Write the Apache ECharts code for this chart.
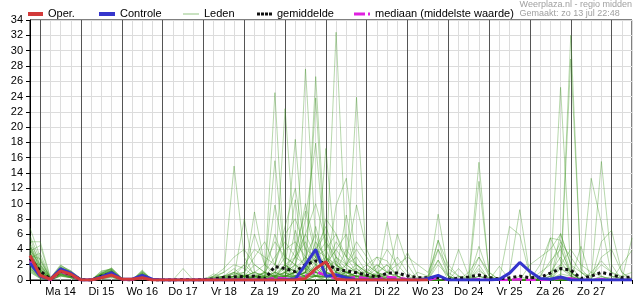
<!DOCTYPE html>
<html><head><meta charset="utf-8">
<script src="https://cdn.jsdelivr.net/npm/echarts@6/dist/echarts.min.js"></script>
<style>html,body{margin:0;padding:0;background:#fff}#c{width:635px;height:300px}</style>
</head><body><div id="c"></div>
<script>
// 6-hourly steps from zo 13 jul 18:00 to ma 28 jul 12:00 (60 points)
const dagLabels = ['Ma 14','Di 15','Wo 16','Do 17','Vr 18','Za 19','Zo 20','Ma 21','Di 22','Wo 23','Do 24','Vr 25','Za 26','Zo 27'];
const yMin = 0, yMax = 34, yStap = 2;

const oper = [3.2,0.6,0.1,1.2,0.75,0,0,0.3,0.65,0.1, 0.1,0.3,0,0,0,0,0,0,0,0, 0,0,0,0,0,0,0,0.2,1.5,2.4, 0.1,0,0,0,0,0,0,0,0,0,
  null,null,null,null,null,null,null,null,null,null, null,null,null,null,null,null,null,null,null,null];
const controle = [2.2,0.5,0.1,1.45,0.9,0,0,0.4,0.95,0.1, 0.1,0.6,0.1,0,0,0,0,0,0,0, 0,0,0,0,0,0.05,0.15,2.0,4.0,0.5,
  0.7,0.3,0,0,0,0,0,0,0,0.2, 0.6,0,0,0,0,0,0.1,0.9,2.3,1.1, 0.2,0.1,0.4,0,0,0,0,0,0,0];
const gemiddelde = [2.8,1.2,0.1,1.2,0.7,0.05,0,0.5,0.9,0.05, 0,0.5,0,0,0,0.05,0,0.05,0.15,0.35, 0.4,0.45,0.5,0.15,1.75,1.5,1.1,2.0,2.5,2.2,
  1.4,1.2,0.95,0.65,0.4,0.9,0.9,0.55,0.3,0.3, 0.35,0.1,0.2,0.4,0.65,0.3,0.15,0.3,0.5,0.3, 0.35,0.9,1.5,1.3,0.2,0.5,1.0,0.7,0.3,0.4];
const mediaan = [2.6,0.5,0,1.1,0.6,0,0,0.4,0.9,0, 0,0.3,0,0,0,0,0,0,0,0, 0,0,0,0,0.3,0.2,0.1,0.5,1.1,0.6,
  0.2,0.2,0.4,0.2,0.1,0.4,0.3,0.1,0,0, 0.3,0,0,0,0.1,0,0,0,0.1,0, 0,0,0.3,0.2,0,0,0.1,0,0,0];

const leden = [
 [6.8,3.0,0.2,1.5,0.8,0,0,0.5,1.2,0.1, 0,0.8,0,0,0,0,0,0,0.3,1.0, 14.9,3.0,0.5,0,0.8,2.0,0.5,1.0,3.5,0.6, 0.2,1.0,0,0,0.5,0.3,0,0,0,0, 0.5,0,0,0,1.2,0.3,0,0,0,0, 0,0,0.8,0.5,0,0,0,0.5,0.2,0],
 [5.0,5.0,0.3,2.0,1.0,0.1,0,0.8,1.6,0.3, 0,1.3,0,0,0,1.5,0,0,0,0, 0.2,0.5,1.0,0.5,24.5,1.0,0.3,2.0,0.5,0, 0.8,0.3,0,1.5,0.5,0,0,0,0.3,0.5, 2.6,0,0.5,0.3,0,0,0,0,0.2,0, 0,1.0,3.0,1.0,0,0,0.4,0.2,0,0],
 [4.2,1.5,0.1,1.0,0.5,0,0,0.3,0.8,0, 0,0.4,0,0,0,0,0,0,0,0.5, 1.5,0.3,8.9,2.0,0.5,22.4,4.0,1.5,3.0,1.0, 0.5,0,0,0,0.8,2.0,0.5,0,0,0, 0,0,0,0,0.5,0.3,0,0,0,0, 0,0.5,1.5,0.8,0,0,0,0,0,0],
 [3.0,0.8,0,1.2,0.6,0,0,0.6,1.0,0.2, 0,0.6,0,0,0,0,0,0,0,0, 0.5,2.0,0.8,0.3,9.8,3.0,18.4,2.5,1.0,0.5, 2.0,1.0,0.5,0.3,0,0,0,0,0,0, 8.6,1.0,0,0,0.5,0,0,0,0,0, 0,0,0.5,0.3,0,0,0,0,0,0.3],
 [2.5,2.0,0.2,1.8,1.2,0.2,0,1.2,1.4,0, 0,0.9,0,0,0,0,0,0,0.5,0.2, 0,0.5,0.3,1.0,15.6,2.0,1.0,27.6,5.0,1.0, 0.5,0.3,0,0,0.8,0.3,0,0,0,0, 0,0,4.0,0.5,0,0,0,0,0,0, 0,0,6.1,2.0,0,0,0,0,0.5,0.2],
 [1.8,0.5,0,0.8,0.4,0,0,0.2,0.6,0, 0,0.3,0,0,0,0,0,0,0,0, 0,0,0.5,0.8,0.5,1.5,0.5,1.0,26.6,4.0, 1.0,0.5,0.2,0,0,7.6,1.0,0,0,0, 0,0,0,0.5,15.4,0.5,0,0,0,0, 0,0,0.3,0.3,0,0,0.5,0,0,0],
 [3.5,1.2,0.1,1.4,0.9,0,0,0.4,1.1,0.1, 0,1.0,0.1,0,0,0,0,0,0.8,0.3, 0.2,0.5,0,1.0,0.3,2.0,10.5,1.0,23.8,2.0, 0.5,0,0,0.3,1.0,0,0,0,0,0, 0,0,0.3,0,0,0,0,1.0,9.2,0.5, 0,0.5,0.5,0,0,0,0,0,0,0],
 [2.2,0.6,0,1.6,0.7,0,0,0.9,1.3,0, 0,0.5,0,0,0,0,0,0,0,0, 0,0,0,0.5,0,1.0,1.5,3.0,2.0,1.5, 32.4,3.0,1.0,0.3,0.5,0.5,0,0,0,0, 0,0,0,0,0.5,0,0,0,0,0, 0,0.5,25.2,1.0,0,0,0,0,0,0],
 [1.2,0.3,0,0.6,0.3,0,0,0.3,0.5,0, 0,0.2,0,0,0,0,0,0,0,0, 0,0.3,0,0,0.5,0.5,1.0,0.5,2.0,1.0, 3.0,0.5,23.9,2.0,1.0,0.5,0,0,0,0, 0,0,0,0,0,0,0,0,0,0, 0,0,0.5,32.0,1.0,0,0,0,0,0],
 [4.8,2.5,0.3,1.3,1.0,0.1,0,0.7,0.9,0, 0,0.7,0,0,0,0,0,0,0,0, 0,0,0.5,0,0.3,0,0.5,0.5,1.0,17.2, 2.0,1.0,0.3,0,0,0,0,0,0,0, 0,0,0,0,12.9,1.0,0,0,0,0, 0,0,0,0,0,0,15.5,2.0,0,0],
 [2.8,1.0,0,1.1,0.5,0,0,0.5,0.7,0, 0,0.5,0,0,0,0,0,0,0.2,0.5, 0.3,0.8,0.5,0.3,1.0,3.0,2.0,8.0,17.9,3.0, 1.0,0.5,0,0,0,0,0,0,0,0, 0,0,0,0,0,0,0,7.0,5.9,0.5, 0,0,0,0,0,0,0,0,0,0],
 [1.5,0.4,0,0.7,0.3,0,0,0.2,0.4,0, 0,0.2,0,0,0,0,0,0,0,0.3, 0.8,0.5,2.0,1.0,0.5,1.0,3.0,5.0,2.0,0.5, 9.8,13.3,2.0,0.5,0,0,0,0,0,0, 0,0,0,0,0,0,0,0,0,0, 0,0,0,28.9,1.5,0,0,0,0,0],
 [3.8,4.5,0.2,1.7,1.1,0.1,0,1.0,1.5,0.2, 0,1.1,0,0,0,0,0,0,0,0, 0,0,0.5,0.2,0.3,0.8,1.0,2.0,0.5,0.3, 1.0,8.5,1.5,0.5,0.3,0.3,0,0,0,0, 5.2,0.5,0,0,4.4,0.5,0,0,0,0, 0,0,0,0,0,13.3,7.4,0.5,0,0],
 [2.0,0.8,0,0.9,0.4,0,0,0.4,0.9,0, 0,0.4,0,0,0,0,0,0,0,0, 0,0.5,0.5,0,0,0.5,0.3,1.0,3.0,2.0, 1.5,1.0,0.5,1.0,3.0,2.5,0.5,0,0,0, 4.0,0.5,0,0,0,0,0,0,0.5,0, 0,5.5,5.2,1.0,0,0,0,0,0,0],
 [5.5,1.8,0.1,1.2,0.7,0,0,0.6,1.0,0.1, 0,0.6,0,0,0,0,0,0,0,0, 0.5,0,0,0.3,6.0,2.0,1.0,0.5,4.0,7.0, 3.0,1.5,1.0,0,0,0,0,0,0,0, 0,0,0,0,0,0,0,0,0,0, 0,0,0,0,4.4,0,5.0,6.5,1.0,0],
 [1.0,0.2,0,0.5,0.3,0,0,0.1,0.3,0, 0,0.1,0,0,0,0,0,0,0,0.5, 1.0,0.5,0,0,0.5,2.0,1.0,0.5,1.0,0.5, 0.5,0.5,1.0,0.5,0.5,0,0,0,0,0, 2.6,0.5,0,0,0,0,0,0,0,0, 0,0,0,0,0,0,0,0,2.0,3.9],
 [3.2,2.8,0.2,1.4,0.8,0,0,0.5,0.8,0, 0,0.3,0,0,0,0,0,0,0,0, 0.5,8.0,1.0,0.5,0.5,0.3,2.0,0.5,0.5,0, 0,0.5,0,0,0,0,0,0,0,0, 0,0,0,0,2.0,0,0,0,0,0, 0,0,2.0,1.0,0,0,0,0,0,0],
 [2.6,0.9,0,1.0,0.5,0,0,0.8,1.2,0, 0,0.5,0,0,0,0,0,0,0.3,0.5, 0.8,1.0,6.0,2.0,1.0,0.5,0.5,1.5,0.5,2.0, 4.0,6.0,1.0,0.5,0.3,0,0,0,0,0, 0,0,0,0,0,0,0,0,0,0, 0,0,4.5,0.5,0,0,0,0,0,0],
 [4.0,1.0,0.1,1.3,0.9,0,0,0.6,1.0,0, 0,0.8,0,0,0,0,0,0,0,0.3, 0.5,0.5,0.3,0.5,2.0,7.0,12.0,4.0,1.0,0.5, 0.5,0.3,0,0,0,0,0,0,0,0, 0,0,0,0,0,0,0,0,0,0, 0,0,0,0,0,0,0,0,0,0],
 [1.6,0.4,0,0.7,0.5,0,0,0.3,0.7,0, 0,0.4,0,0,0,0,0,0,0,0, 0,0.3,0.5,0.3,1.0,0.5,3.0,6.0,10.0,5.0, 2.0,0.5,0.5,0,0,1.0,3.0,1.0,0,0, 0,0,0,0,0,0,0,0,0,0, 0,0,0,0,0,0,0,0,0,0],
 [3.3,1.4,0.1,1.6,1.0,0.1,0,0.9,1.4,0.1, 0,0.9,0,0,0,0,0,0,0,0, 0,0,0,0.5,0.5,1.0,0.5,0.5,2.0,8.0, 6.0,2.0,3.0,1.0,0.5,0.3,0.5,0,0,0, 0,0,0,0,0,0,0,0,0,0, 0,0,0,0,0,0,0,0,0,0],
 [2.9,3.5,0.2,0.9,0.6,0,0,0.4,0.8,0, 0,0.3,0,0,0,0,0,0,0,0, 0.2,0.5,0.3,0.5,0.3,0.5,1.0,1.5,0.5,1.0, 0.5,2.0,5.0,3.0,1.0,2.0,0.5,0,0,0, 0,0,0,0,0,0,0,0,0,0, 0,0,0,0,0,0,0,0,0,0],
 [2.4,0.7,0,1.5,0.8,0,0,0.7,1.1,0, 0,0.6,0,0,0,0,0,0,0,0, 0,0,0,0,0.5,1.0,2.0,0.8,1.0,3.0, 1.0,0.5,0.5,0.5,1.5,4.0,2.0,0.5,0,0, 2.0,0.5,0,0,0,0,0,0,0,0, 0,0,0,0,0,0,0,0,0,0],
 [1.4,0.3,0,0.6,0.4,0,0,0.3,0.6,0, 0,0.2,0,0,0,0,0,0,0,0, 0,0,0,0.3,0.5,0.5,0.5,1.0,1.5,0.5, 0.5,0.5,0.3,0,0,0,1.0,3.6,0.5,0, 0,0,0,1.0,3.0,0.5,0,0,0,0, 0.5,2.5,4.0,1.0,0,0,0,0,0,0],
 [3.6,1.1,0.1,1.2,0.7,0,0,0.5,0.9,0, 0,0.5,0,0,0,0,0,0,0,0.2, 0.5,0.5,0,0,0.3,0.5,6.5,2.0,0.5,0.5, 0.3,0,0,0,0,0,0,0,0,0, 0,0,0,0,0,0,0,0,0,0, 0,0,0,0,0,0,0,0,0,0],
 [2.1,0.5,0,1.0,0.5,0,0,0.5,0.9,0, 0,0.5,0,0,0,0,0,0,0.5,1.0, 2.0,1.5,0.5,1.0,0.5,1.0,4.0,9.0,3.0,1.0, 0.5,0,0,0,0,0,0,0,0,0, 0,0,0,0,0,0,0,0,0,0, 0,0,0,0,0,1.0,2.5,1.0,0,0],
 [4.5,2.2,0.2,1.9,1.2,0.1,0,1.1,1.5,0.2, 0,1.2,0,0,0,0,0,0,0,0, 0,0,0,0,0,0.5,0.5,0.5,1.0,2.0, 5.0,3.0,9.8,4.0,1.0,0.5,0,0,0,0, 0,0,0,0,0,0,0,0,0,0, 0,0,0,0,0,0,0,0,0,0],
 [1.9,0.6,0,0.8,0.4,0,0,0.3,0.7,0, 0,0.3,0,0,0,0,0,0,0,0, 0,0,0,0,0,0,0.5,1.0,5.0,3.0, 1.5,0.5,0.5,0.5,2.0,1.0,0.3,0,0,0, 0,0,0,0,0,0,0,0,0,0, 0,0,1.5,0.5,0,0,0,0,0,0],
 [3.1,0.9,0,1.3,0.8,0,0,0.6,1.0,0, 0,0.7,0,0,0,0,0,0,0,0, 0,0,0,0,0,0,0,0.5,0.5,1.5, 2.5,1.0,1.5,0.5,0.5,0,0,0,1.0,0.5, 5.2,2.0,0.5,0,0,0,0,0,0,0, 0,0,0,0,0,0,0,0,0,0],
 [2.7,1.6,0.1,1.1,0.6,0,0,0.4,0.8,0, 0,0.4,0,0,0,0,0,0,0,0, 0,0,0,0,0,0,0,0,0,0.5, 1.0,0.5,0.5,0.3,0,0,0,0,0,0, 0,0,0,0,0,0,0,0,0,0, 0,0,0,0,0,0,0,0,0,0],
 [1.1,0.2,0,0.5,0.3,0,0,0.2,0.4,0, 0,0.1,0,0,0,0,0,0,0,0, 0,0,0,0,0.3,0.5,0.5,0.3,0.5,0.5, 0.3,0.3,1.0,2.0,1.0,0.5,0,0,0,0, 0.5,0,0,0,0,0,0,0,0,0, 0,0,0,0,0,0,0,0,0,0],
 [4.6,1.3,0.1,1.7,1.0,0,0,0.8,1.2,0, 0,1.0,0,0,0,0,0,0,0,0, 0,0,0,0.5,0,0,1.0,2.0,1.0,0.5, 0.5,0.5,0.5,0,0,0,0,0,0,0, 0,0,0,0,0,0,0,0,0,0, 0,0,0,0,0,0,0,0,0,0],
 [2.3,0.8,0,0.9,0.5,0,0,0.5,0.8,0, 0,0.5,0,0,0,0,0,0,0,0, 0,0,0,0,0,0,0,0,0,0, 0,0,0,0,0,0,0,0,0,0, 0,0,1.5,0,0,0,0,0,0,0, 0,0,0,0,0,0,0,0,0,0],
 [3.9,2.0,0.2,1.4,0.9,0.1,0,0.7,1.3,0.1, 0,0.8,0,0,0,0,0,0,0,0, 0,0,0.5,0.3,1.0,0.5,0.5,1.0,0.5,0.5, 0.5,0.3,0,0,0,0,0,0,0,0, 0,0,0,0,0,0,0,0,0,0, 0,0,0,0,0,0,0,0,0,0],
 [2.0,0.5,0,1.0,0.6,0,0,0.5,1.0,0, 0,0.6,0,0,0,0,0,0,0,0, 0,0,0,0,0,0.5,1.0,0.5,0.5,0.5, 0.5,1.0,0.5,0,0,0,0,0,0,0, 0,0,0,0,0,0,0,0,0,0, 1.0,2.0,5.0,3.0,1.0,0.5,2.0,1.0,0.5,1.0],
 [3.4,1.0,0,1.2,0.7,0,0,0.4,0.9,0, 0,0.5,0,0,0,0,0,0,0,0, 0,0,0,0,0,0,0.3,0.5,1.0,0.5, 0,0,0,0,0,0,0,0,0,0, 0,0,0,0,1.5,0,0,0,0,0, 0,0,0,0,0,0,0,0,0,5.5],
 [1.7,0.4,0,0.8,0.4,0,0,0.3,0.6,0, 0,0.3,0,0,0,0,0,0,0,0, 0,0,0,0,0,0,0,0.5,1.5,0.5, 0.5,0,0,0,0,0,6.0,2.0,0,0, 0,0,0,0,0,0,0,0,0,0, 2.0,5.5,2.5,0.5,0,0,0,0,0,0],
 [5.8,2.6,0.2,1.6,1.1,0.1,0,0.9,1.4,0.2, 0,1.1,0,0,0,0,0,0,0,0, 0,0,0,0,0,0,0,0,0.5,1.0, 0.5,0,0,0,0,0,0,0,0,0, 0,0,0,0,0,0,0,0,0,0, 0,0,0,0,0,0,0,0,0,0],
 [2.5,0.7,0,1.1,0.6,0,0,0.6,1.0,0, 0,0.6,0,0,0,0,0,0,0,0, 0,0,0,0,0,0.5,1.0,3.0,6.0,2.0, 0.5,0,0,0,0,0,0,0,0,0, 0,0,0,0,0,0,0,0,0,0, 0,0,0,0,0,0,0,0,0,0],
 [3.0,1.3,0.1,1.5,0.9,0,0,0.7,1.2,0, 0,0.8,0,0,0,0,0,0,0,0, 0,0,0,0,0.5,0,0.5,1.0,0.5,2.0, 4.0,2.0,1.0,0.5,0,0,0,0,0,0, 0,0,0,0,0,0,0,0,0,0, 0,0,0,0,0,0,0,0,0,0],
 [1.3,0.3,0,0.6,0.3,0,0,0.2,0.5,0, 0,0.3,0,0,0,0,0,0,0,0, 0,0,0,0,0,0,0,0,0.5,0.5, 1.0,1.0,0.5,0.5,0.5,0,0,0,0,0, 0,0,0,0,0,0,1.8,0,0,0, 0,0,0,0,0,0,0,0,0,0],
 [4.4,1.9,0.2,1.3,0.8,0,0,0.6,1.1,0, 0,0.7,0,0,0,0,0,0,0,0.3, 0.5,0.5,0,0,0,0,0,0,0.5,0.3, 0.3,0,0,0,0,0,0,0,0,0, 0,0,0,0,0,0,0,0,0,0, 0,0,0,0,0,0,0,0,0,0],
 [2.2,0.9,0,1.0,0.6,0,0,0.5,0.9,0, 0,0.5,0,0,0,0,0,0,0.5,1.5, 3.0,4.0,2.0,1.0,3.0,5.0,3.0,2.0,4.0,3.0, 2.0,1.0,0.5,0,0,0,0,0,0,0, 0,0,0,0,0,0,0,0,0,0, 0,0,0,0,0,0,0,0,0,0],
 [3.7,1.4,0.1,1.3,0.8,0,0,0.6,1.1,0, 0,0.6,0,0,0,0,0,0,0,0.3, 1.0,2.0,4.0,3.0,2.0,6.0,8.0,4.0,3.0,5.0, 3.0,2.0,1.0,1.0,2.0,1.0,0.5,0,0,0, 0,0,0,0,0,0,0,0,0,0, 0,0,0,0,0,0,0,0,0,0],
 [1.5,0.4,0,0.7,0.4,0,0,0.3,0.6,0, 0,0.3,0,0,0,0,0,0,0,0, 0.5,1.0,3.0,5.0,2.0,1.0,2.0,6.0,3.0,4.0, 6.0,3.0,2.0,1.0,0.5,0,0,0,0,0, 0,0,0,0,0,0,0,0,0,0, 0,0,0,0,0,0,0,0,0,0],
 [2.9,1.1,0.1,1.2,0.7,0,0,0.5,1.0,0, 0,0.5,0,0,0,0,0,0,0.3,0.5, 1.0,0.5,1.0,2.0,5.0,3.0,2.0,1.0,7.0,2.0, 1.0,4.0,2.0,1.0,0.5,0,0,0,0,0, 0,0,0,0,0,0,0,0,0,0, 0,0,0,0,0,0,0,0,0,0],
 [4.1,1.7,0.1,1.5,0.9,0,0,0.7,1.2,0, 0,0.8,0,0,0,0,0,0,0,0, 0,0.5,1.0,0.5,1.0,4.0,5.0,3.0,2.0,3.0, 1.0,2.0,4.0,2.0,3.0,1.0,0.5,0,0,0, 0,0,0,0,0,0,0,0,0,0, 0,0,0,0,0,0,0,0,0,0],
 [2.6,0.8,0,1.1,0.6,0,0,0.5,0.9,0, 0,0.4,0,0,0,0,0,0,0,0, 0,0,0.5,1.0,0.5,2.0,3.0,10.0,4.0,6.0, 2.0,1.0,0.5,0.5,0,0,0,0,0,0, 0,0,0,0,0,0,0,0,0,0, 0,0,0,0,0,0,0,0,0,0],
 [3.3,1.2,0.1,1.3,0.7,0,0,0.6,1.0,0, 0,0.6,0,0,0,0,0,0,0,0, 0,0,0,0,0.5,0.5,1.0,0.5,0.5,0.5, 0.5,0.5,0,0,0,0,0,0,0,0, 0,0,0,0,3.0,1.0,0,0,0,2.0, 3.0,4.0,6.0,2.0,1.0,0,3.0,4.0,1.0,0],
 [1.8,0.5,0,0.8,0.5,0,0,0.4,0.7,0, 0,0.4,0,0,0,0,0,0,0,0, 0,0,0,0,0,0.5,1.0,1.5,1.0,0.5, 0.5,1.0,2.0,1.0,0.5,1.0,2.0,3.0,2.0,1.0, 4.0,1.5,0.5,0,0,0,0,0,0,0, 0,1.0,2.0,4.0,2.0,1.0,0.5,0,0,0]
];

// category keys: 6-hourly times starting zo 13 jul 18:00
const tijden = [];
for (let i = 0; i < oper.length; i++) {
  const h = 18 + 6 * i;
  tijden.push((13 + Math.floor(h / 24)) + '-' + String(h % 24).padStart(2, '0'));
}

const FONT = 'Liberation Sans, Arial, sans-serif';
const LEDEN_KLEUR = 'rgba(60,150,30,0.37)';
const chart = echarts.init(document.getElementById('c'), null, {renderer: 'canvas'});

const legendBase = {top: 8.5, padding: 0, selectedMode: false,
  textStyle: {fontSize: 11, color: '#000', fontFamily: FONT}};
const legends = [
  {data: ['Oper.'], left: 28, icon: 'rect', itemWidth: 15, itemHeight: 4},
  {data: ['Controle'], left: 99, icon: 'rect', itemWidth: 16, itemHeight: 4},
  {data: ['Leden'], left: 183, icon: 'rect', itemWidth: 16, itemHeight: 1.5},
  {data: ['gemiddelde'], left: 257, icon: 'path://M0,0h3v3h-3zM4,0h3v3h-3zM8,0h3v3h-3zM12,0h3v3h-3z', itemWidth: 15, itemHeight: 3},
  {data: ['mediaan (middelste waarde)'], left: 354, icon: 'path://M0,0h11v3h-11zM14,0h2v3h-2z', itemWidth: 16, itemHeight: 3}
].map(function (l) { return Object.assign({}, legendBase, l); });

const series = [];
leden.forEach(function (row) {
  series.push({name: 'Leden', type: 'line', data: row, symbol: 'none', silent: true,
    color: LEDEN_KLEUR, lineStyle: {width: 1, color: LEDEN_KLEUR}, z: 2});
});
series.push({name: 'mediaan (middelste waarde)', type: 'line', data: mediaan, symbol: 'none', silent: true,
  color: '#e020e0', lineStyle: {width: 2.5, color: '#e020e0', type: [10, 4]}, z: 3});
series.push({name: 'gemiddelde', type: 'line', data: gemiddelde, symbol: 'none', silent: true,
  color: '#111', lineStyle: {width: 3, color: '#111', type: [3, 3]}, z: 4});
series.push({name: 'Controle', type: 'line', data: controle, symbol: 'none', silent: true,
  color: '#3535cc', lineStyle: {width: 3, color: '#3535cc'}, z: 5});
series.push({name: 'Oper.', type: 'line', data: oper, symbol: 'none', silent: true,
  color: '#d23a3a', lineStyle: {width: 3, color: '#d23a3a'}, z: 6});

chart.setOption({
  animation: false,
  backgroundColor: '#fff',
  title: {text: 'Weerplaza.nl - regio midden', subtext: 'Gemaakt: zo 13 jul 22:48', right: 3, top: 0, padding: 0, itemGap: 0,
    textStyle: {fontSize: 9, fontWeight: 'normal', color: '#a0a0a0', fontFamily: FONT, lineHeight: 9},
    subtextStyle: {fontSize: 9, color: '#a0a0a0', fontFamily: FONT, lineHeight: 10}},
  legend: legends,
  grid: {left: 30, right: 2, top: 20, bottom: 20, show: true, borderColor: '#000', borderWidth: 1},
  xAxis: [{
    type: 'category', data: tijden, boundaryGap: false,
    axisLine: {lineStyle: {color: '#000', width: 1}},
    axisTick: {show: true, interval: 0, length: 4, lineStyle: {color: '#000'}},
    axisLabel: {interval: 0, margin: 6, fontSize: 11, color: '#000', fontFamily: FONT,
      formatter: function (v, i) { return i % 4 === 3 ? (dagLabels[(i - 3) / 4] || '') : ''; }},
    splitLine: {show: true, interval: 0, lineStyle: {color: '#dcdcdc', width: 1}}
  }, {
    type: 'category', data: tijden, boundaryGap: false, position: 'bottom',
    axisLine: {show: false}, axisTick: {show: false}, axisLabel: {show: false},
    splitLine: {show: true, interval: function (i) { return i % 4 === 1; }, lineStyle: {color: '#555', width: 1}}
  }],
  yAxis: {
    type: 'value', min: yMin, max: yMax, interval: yStap,
    axisLine: {show: true, lineStyle: {color: '#000', width: 1}},
    axisTick: {show: true, length: 4, lineStyle: {color: '#000'}},
    axisLabel: {fontSize: 11, color: '#000', margin: 7, fontFamily: FONT},
    splitLine: {show: true, lineStyle: {color: '#dcdcdc', width: 1}}
  },
  series: series
});
</script>
</body></html>
